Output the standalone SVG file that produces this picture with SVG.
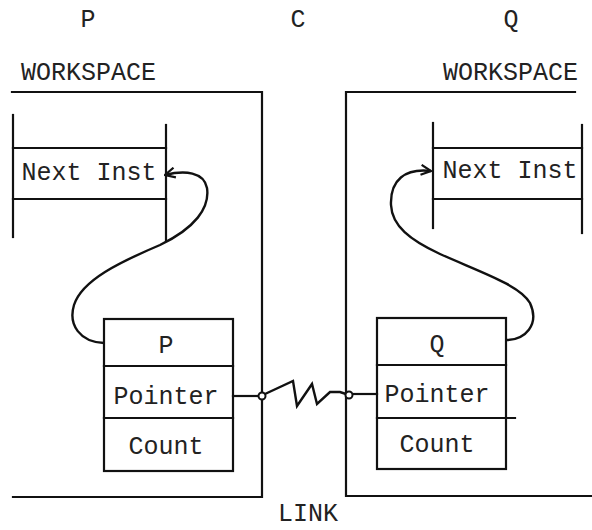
<svg xmlns="http://www.w3.org/2000/svg" width="592" height="530" viewBox="0 0 592 530">
<style>
.t{font-family:"Liberation Mono","Courier New",monospace;font-size:25px;fill:#222;}
.m{text-anchor:middle;}
.ln{stroke:#111;stroke-width:2.2;fill:none;stroke-linecap:square;}
.bx{stroke:#111;stroke-width:2.2;fill:#fff;}
.cv{stroke:#111;stroke-width:2.4;fill:none;}
</style>
<defs>
<marker id="ah" viewBox="0 0 12 12" refX="11" refY="6" markerWidth="12" markerHeight="12" markerUnits="userSpaceOnUse" orient="auto">
<path d="M1,1 L11,6 L1,11" fill="none" stroke="#111" stroke-width="2.2"/>
</marker>
</defs>
<g id="labels">
<text class="t m" x="88" y="27">P</text>
<text class="t m" x="298" y="27">C</text>
<text class="t m" x="511" y="27">Q</text>
<text class="t m" x="308" y="521">LINK</text>
</g>
<g id="workspace-p">
<text class="t" x="21" y="80">WORKSPACE</text>
<path class="ln" d="M12,92 H262 V497 H13"/>
</g>
<g id="workspace-q">
<text class="t" x="443" y="80">WORKSPACE</text>
<path class="ln" d="M575,92 H346 V496 H592"/>
</g>
<g id="mem-p">
<line class="ln" x1="13" y1="115" x2="13" y2="237"/>
<line class="ln" x1="166" y1="125" x2="166" y2="240"/>
<line class="ln" x1="13" y1="148" x2="166" y2="148"/>
<line class="ln" x1="13" y1="199" x2="166" y2="199"/>
<text class="t m" x="89" y="180">Next Inst</text>
</g>
<g id="mem-q">
<line class="ln" x1="433" y1="123" x2="433" y2="228"/>
<line class="ln" x1="582" y1="125" x2="582" y2="233"/>
<line class="ln" x1="433" y1="148" x2="582" y2="148"/>
<line class="ln" x1="433" y1="199" x2="582" y2="199"/>
<text class="t m" x="510" y="178">Next Inst</text>
</g>
<g id="node-p">
<rect class="bx" x="104" y="319" width="129" height="152"/>
<line class="ln" x1="104" y1="366" x2="233" y2="366"/>
<line class="ln" x1="104" y1="418" x2="233" y2="418"/>
<text class="t m" x="166" y="353">P</text>
<text class="t m" x="166" y="404">Pointer</text>
<text class="t m" x="166" y="454">Count</text>
</g>
<g id="node-q">
<rect class="bx" x="377" y="318" width="129" height="151"/>
<line class="ln" x1="377" y1="365" x2="506" y2="365"/>
<line class="ln" x1="377" y1="418" x2="515" y2="418"/>
<text class="t m" x="437" y="352">Q</text>
<text class="t m" x="437" y="402">Pointer</text>
<text class="t m" x="437" y="452">Count</text>
</g>
<g id="connectors">
<path class="cv" d="M104,343 C80,342 68,325 74,305 C82,280 120,262 160,245 C195,228 210,208 207,188 C204,172 185,170 165,175" marker-end="url(#ah)"/>
<path class="cv" d="M506,340 C525,340 540,325 530,303 C520,285 480,272 440,254 C410,240 392,226 391,205 C390,180 405,168 431,171" marker-end="url(#ah)"/>
<line class="ln" x1="233" y1="396" x2="259" y2="396"/>
<line class="ln" x1="352" y1="394" x2="377" y2="394"/>
<polyline class="cv" points="265,394 293,381 297,406 312,384 317,404 330,392 340,392 346,394" stroke-linejoin="miter"/>
<circle cx="262" cy="396" r="3.5" fill="#fff" stroke="#111" stroke-width="2"/>
<circle cx="349" cy="395" r="3.5" fill="#fff" stroke="#111" stroke-width="2"/>
</g>
</svg>
